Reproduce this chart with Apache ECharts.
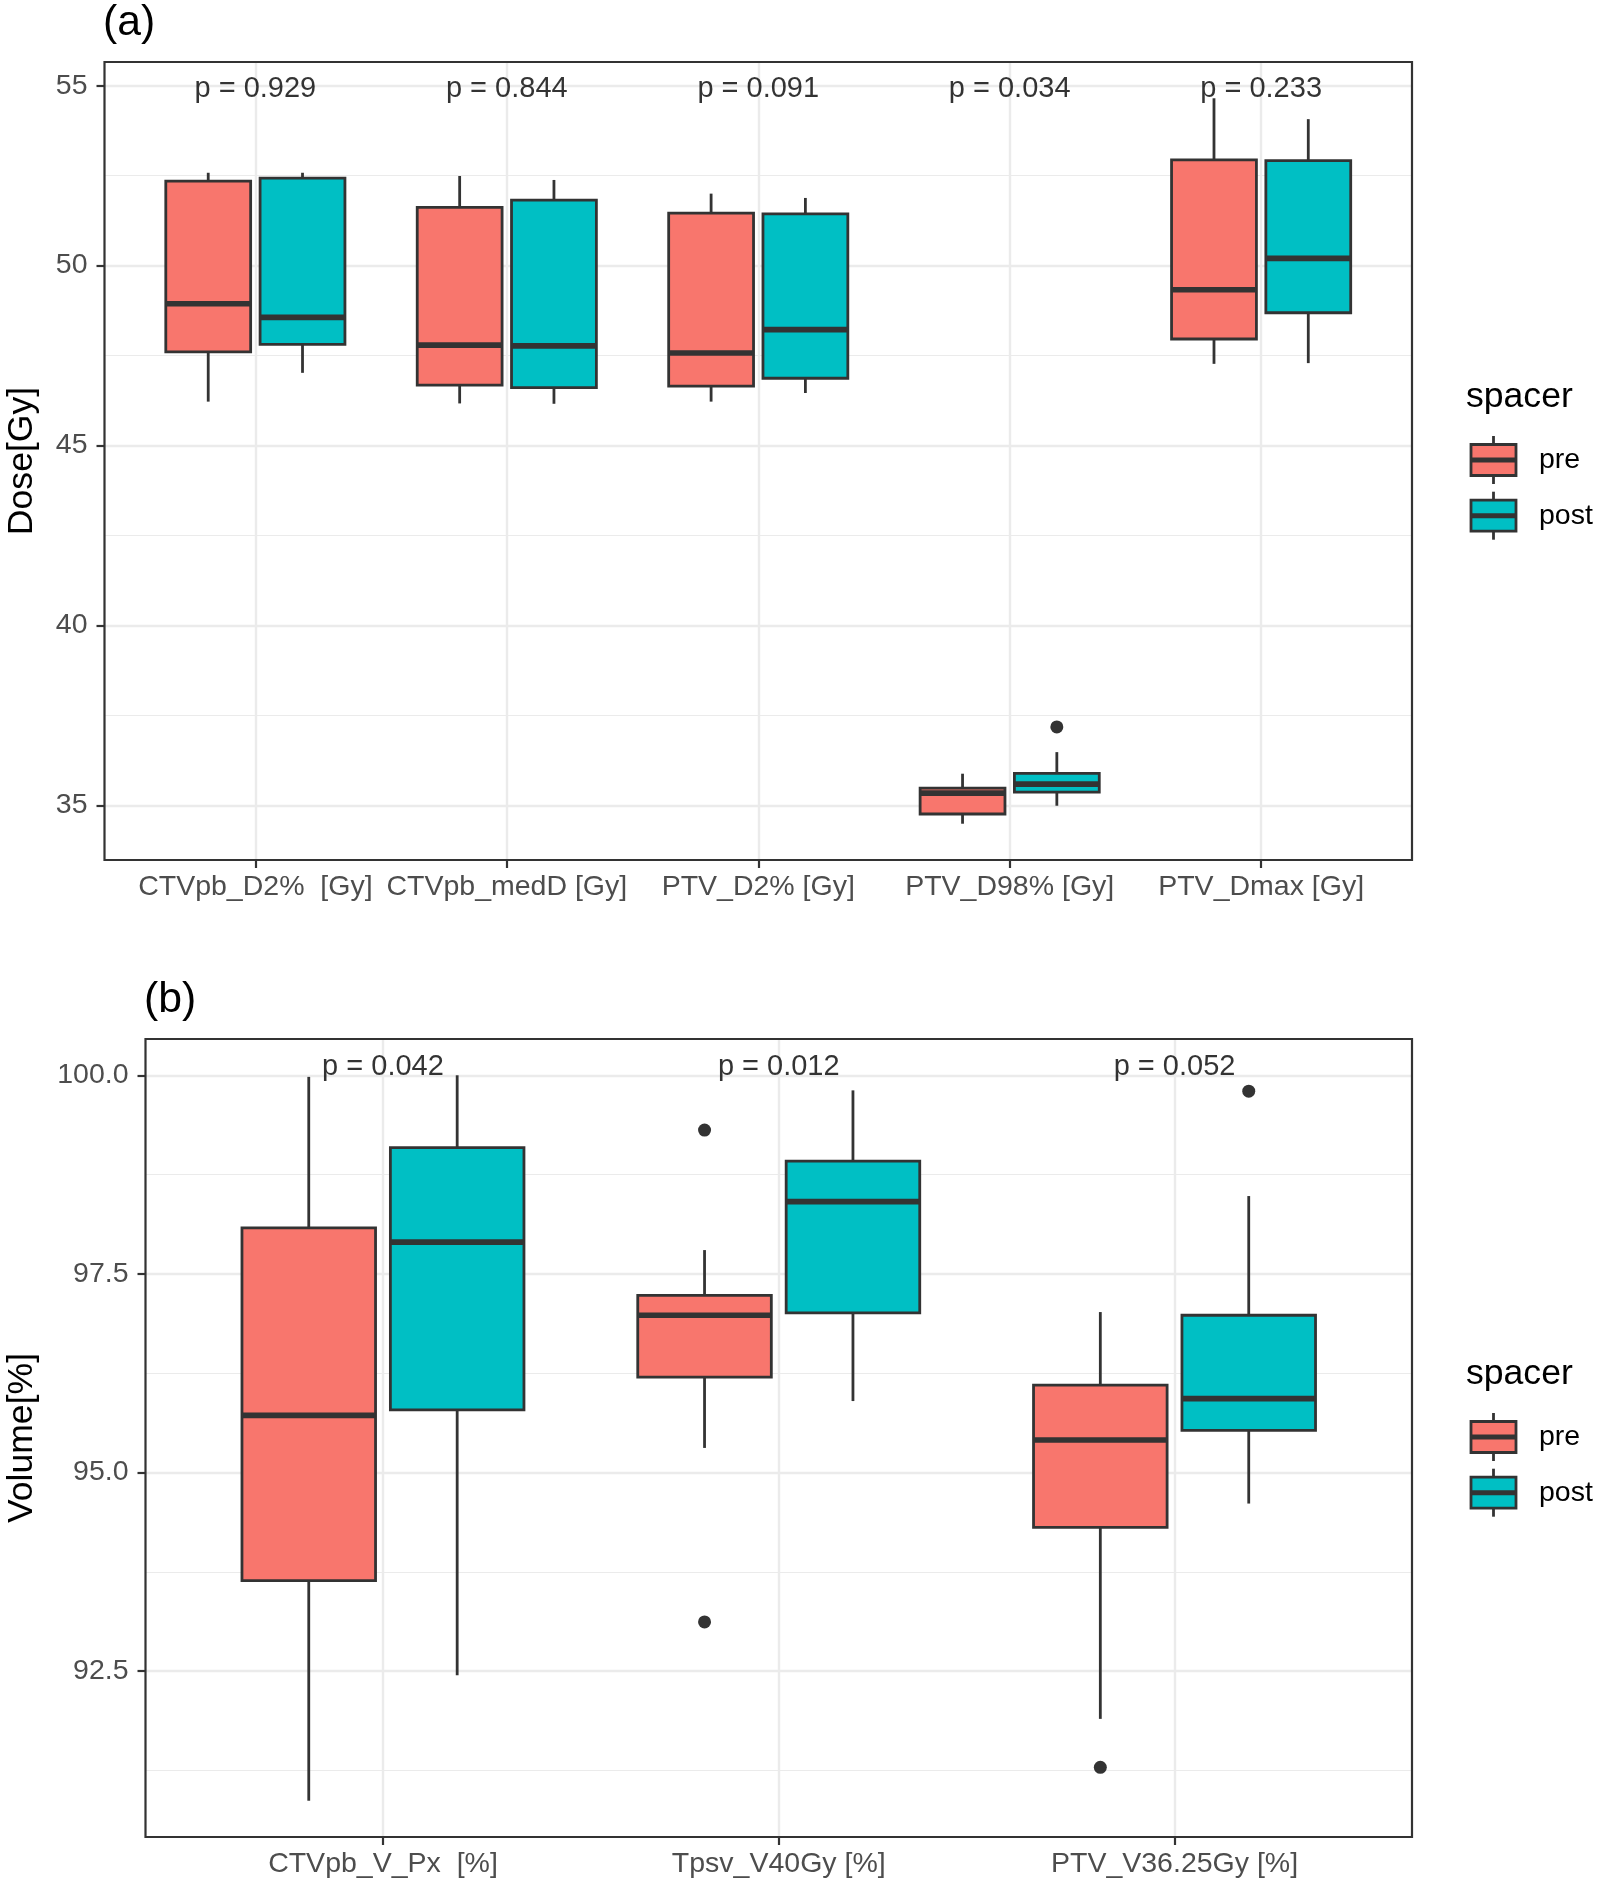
<!DOCTYPE html>
<html><head><meta charset="utf-8">
<script src="https://cdn.jsdelivr.net/npm/echarts@6/dist/echarts.min.js"></script>
<style>html,body{margin:0;padding:0;background:#fff}#c{width:1600px;height:1884px}</style>
</head><body><div id="c"></div>
<script>
// ---------- Panel (a) data: [min, Q1, median, Q3, max] ----------
const catsA = ['CTVpb_D2%  [Gy]', 'CTVpb_medD [Gy]', 'PTV_D2% [Gy]', 'PTV_D98% [Gy]', 'PTV_Dmax [Gy]'];
const preA = [
  [46.22, 47.60, 48.94, 52.35, 52.58],
  [46.17, 46.68, 47.79, 51.62, 52.49],
  [46.22, 46.65, 47.57, 51.46, 52.00],
  [34.49, 34.76, 35.34, 35.48, 35.88],
  [47.27, 47.96, 49.33, 52.94, 54.65]
];
const postA = [
  [47.02, 47.81, 48.56, 52.43, 52.58],
  [46.16, 46.61, 47.77, 51.82, 52.38],
  [46.46, 46.87, 48.22, 51.44, 51.88],
  [34.99, 35.37, 35.59, 35.89, 36.48],
  [47.29, 48.69, 50.20, 52.92, 54.07]
];
const preOutA = [];
const postOutA = [[4, 37.18]];
const pTextA = ['p = 0.929', 'p = 0.844', 'p = 0.091', 'p = 0.034', 'p = 0.233'];
const pYA = 54.91;
const yTicksA = [35, 40, 45, 50, 55];
const yMinorA = [37.5, 42.5, 47.5, 52.5];

// ---------- Panel (b) data ----------
const catsB = ['CTVpb_V_Px  [%]', 'Tpsv_V40Gy [%]', 'PTV_V36.25Gy [%]'];
const preB = [
  [90.87, 93.64, 95.72, 98.08, 99.98],
  [95.31, 96.20, 96.98, 97.23, 97.80],
  [91.90, 94.31, 95.41, 96.10, 97.02]
];
const postB = [
  [92.45, 95.79, 97.90, 99.09, 100.00],
  [95.90, 97.01, 98.41, 98.92, 99.81],
  [94.61, 95.53, 95.93, 96.98, 98.48]
];
const preOutB = [[2, 99.31], [2, 93.12], [3, 91.29]];
const postOutB = [[3, 99.80]];
const pTextB = ['p = 0.042', 'p = 0.012', 'p = 0.052'];
const pYB = 100.1;
const yTicksB = [92.5, 95.0, 97.5, 100.0];
const yMinorB = [91.25, 93.75, 96.25, 98.75];

const groups = ['pre', 'post'];
const colors = ['#F8766D', '#00BFC4'];

// ---------- styling constants ----------
const FONT = '"Liberation Sans", Arial, Helvetica, sans-serif';
const DODGE = 0.1875, BOX_W = 0.3375;
const LW = 2.8, MW = 5.6, DARK = '#333333', GRIDC = '#EBEBEB';

function extent(stats, outs) {
  let lo = Infinity, hi = -Infinity;
  stats.forEach(s => s.forEach(v => { lo = Math.min(lo, v); hi = Math.max(hi, v); }));
  outs.forEach(o => { lo = Math.min(lo, o[1]); hi = Math.max(hi, o[1]); });
  const pad = (hi - lo) * 0.05;
  return [lo - pad, hi + pad];
}
const extA = extent(preA.concat(postA), preOutA.concat(postOutA));
const extB = extent(preB.concat(postB), preOutB.concat(postOutB));

function boxRender(offset, color) {
  return function (params, api) {
    const x = api.value(0) + offset;
    const pMin = api.coord([x, api.value(1)]);
    const pQ1 = api.coord([x, api.value(2)]);
    const pMed = api.coord([x, api.value(3)]);
    const pQ3 = api.coord([x, api.value(4)]);
    const pMax = api.coord([x, api.value(5)]);
    const hw = api.size([BOX_W, 0])[0] / 2;
    const cx = pMed[0];
    const ls = { stroke: DARK, lineWidth: LW };
    return {
      type: 'group', children: [
        { type: 'line', shape: { x1: cx, y1: pMax[1], x2: cx, y2: pQ3[1] }, style: ls },
        { type: 'line', shape: { x1: cx, y1: pQ1[1], x2: cx, y2: pMin[1] }, style: ls },
        { type: 'rect', shape: { x: cx - hw, y: pQ3[1], width: 2 * hw, height: pQ1[1] - pQ3[1] },
          style: { fill: color, stroke: DARK, lineWidth: LW } },
        { type: 'line', shape: { x1: cx - hw, y1: pMed[1], x2: cx + hw, y2: pMed[1] },
          style: { stroke: DARK, lineWidth: MW } }
      ]
    };
  };
}

function xAxisFor(gi, cats) {
  const vals = cats.map((c, i) => i + 1);
  return {
    type: 'value', gridIndex: gi, min: 0.4, max: cats.length + 0.6,
    axisLine: { show: false },
    axisTick: { show: true, length: 8, customValues: vals, lineStyle: { color: DARK, width: 2.2 } },
    axisLabel: { show: true, customValues: vals, margin: 13, color: '#4D4D4D', fontSize: 28.5, fontFamily: FONT,
      formatter: v => cats[Math.round(v) - 1] || '' },
    splitLine: { show: true, lineStyle: { color: GRIDC, width: 2.4 } }
  };
}
function yAxisFor(gi, ext, ticks, fmt) {
  return {
    type: 'value', gridIndex: gi, min: ext[0], max: ext[1],
    axisLine: { show: false },
    axisTick: { show: true, length: 8, customValues: ticks, lineStyle: { color: DARK, width: 2.2 } },
    axisLabel: { show: true, customValues: ticks, margin: 17, color: '#4D4D4D', fontSize: 28.5, fontFamily: FONT,
      formatter: fmt },
    splitLine: { show: true, lineStyle: { color: GRIDC, width: 2.4 } }
  };
}
function yMinorFor(gi, ext, ticks) {
  return {
    type: 'value', gridIndex: gi, min: ext[0], max: ext[1], position: 'left',
    axisLine: { show: false },
    axisTick: { show: false, customValues: ticks },
    axisLabel: { show: false, customValues: ticks },
    splitLine: { show: true, lineStyle: { color: GRIDC, width: 1.2 } }
  };
}

function panelSeries(xi, yi, pre, post, preOut, postOut, pText, pY) {
  const s = [];
  [pre, post].forEach((stats, g) => {
    const off = g === 0 ? -DODGE : DODGE;
    s.push({
      type: 'custom', name: groups[g], xAxisIndex: xi, yAxisIndex: yi,
      renderItem: boxRender(off, colors[g]),
      encode: { x: 0, y: [1, 2, 3, 4, 5] },
      data: stats.map((v, i) => [i + 1].concat(v)), z: 3
    });
  });
  [preOut, postOut].forEach((outs, g) => {
    const off = g === 0 ? -DODGE : DODGE;
    s.push({
      type: 'scatter', xAxisIndex: xi, yAxisIndex: yi, symbolSize: 13,
      itemStyle: { color: DARK, opacity: 1 }, z: 4, silent: true,
      data: outs.map(o => [o[0] + off, o[1]])
    });
  });
  s.push({
    type: 'scatter', xAxisIndex: xi, yAxisIndex: yi, symbolSize: 2, silent: true,
    itemStyle: { color: 'rgba(0,0,0,0)' }, z: 5,
    label: { show: true, position: 'inside', color: '#000000', fontSize: 29, fontFamily: FONT,
      formatter: p => pText[p.dataIndex] },
    labelLayout: { hideOverlap: false },
    data: pText.map((t, i) => [i + 1, pY])
  });
  return s;
}

function txt(x, y, text, size, opts) {
  return Object.assign({
    type: 'text', x: x, y: y, z: 10,
    style: { text: text, font: size + 'px ' + FONT, fill: '#000',
      align: 'left', verticalAlign: 'middle', textAlign: 'left', textVerticalAlign: 'middle' }
  }, opts || {});
}
function legendEls(dy) {
  const els = [txt(1466, 397 + dy, 'spacer', 35.6)];
  groups.forEach((g, i) => {
    const cy = 460 + i * 55.7 + dy;
    els.push({ type: 'line', z: 10, shape: { x1: 1493.5, y1: cy - 24, x2: 1493.5, y2: cy + 24 },
      style: { stroke: DARK, lineWidth: LW } });
    els.push({ type: 'rect', z: 11, shape: { x: 1471, y: cy - 15.5, width: 45, height: 31 },
      style: { fill: colors[i], stroke: DARK, lineWidth: LW } });
    els.push({ type: 'line', z: 12, shape: { x1: 1471, y1: cy, x2: 1516, y2: cy },
      style: { stroke: DARK, lineWidth: 5 } });
    els.push(txt(1539, cy, g, 28.5));
  });
  return els;
}
function rotTitle(x, y, text) {
  return { type: 'text', x: x, y: y, z: 10, rotation: Math.PI / 2,
    style: { text: text, font: '35.6px ' + FONT, fill: '#000', align: 'center', verticalAlign: 'middle',
      textAlign: 'center', textVerticalAlign: 'middle' } };
}

const chart = echarts.init(document.getElementById('c'), null, { renderer: 'canvas' });
const option = {
  backgroundColor: '#ffffff',
  animation: false,
  grid: [
    { left: 104.5, top: 62, width: 1307.5, height: 798, show: true, z: 1, backgroundColor: 'transparent',
      borderColor: DARK, borderWidth: 2.2, containLabel: false, outerBoundsMode: 'none' },
    { left: 145.5, top: 1039, width: 1266.5, height: 798, show: true, z: 1, backgroundColor: 'transparent',
      borderColor: DARK, borderWidth: 2.2, containLabel: false, outerBoundsMode: 'none' }
  ],
  xAxis: [xAxisFor(0, catsA), xAxisFor(1, catsB)],
  yAxis: [
    yAxisFor(0, extA, yTicksA, v => String(Math.round(v))),
    yMinorFor(0, extA, yMinorA),
    yAxisFor(1, extB, yTicksB, v => v.toFixed(1)),
    yMinorFor(1, extB, yMinorB)
  ],
  series: [].concat(
    panelSeries(0, 0, preA, postA, preOutA, postOutA, pTextA, pYA),
    panelSeries(1, 2, preB, postB, preOutB, postOutB, pTextB, pYB)
  ),
  graphic: [].concat(
    [txt(103, 23, '(a)', 42.7), txt(144, 1000, '(b)', 42.7),
     rotTitle(21.7, 461, 'Dose[Gy]'), rotTitle(21.7, 1438, 'Volume[%]')],
    legendEls(0), legendEls(977)
  )
};
chart.setOption(option);
</script></body></html>
